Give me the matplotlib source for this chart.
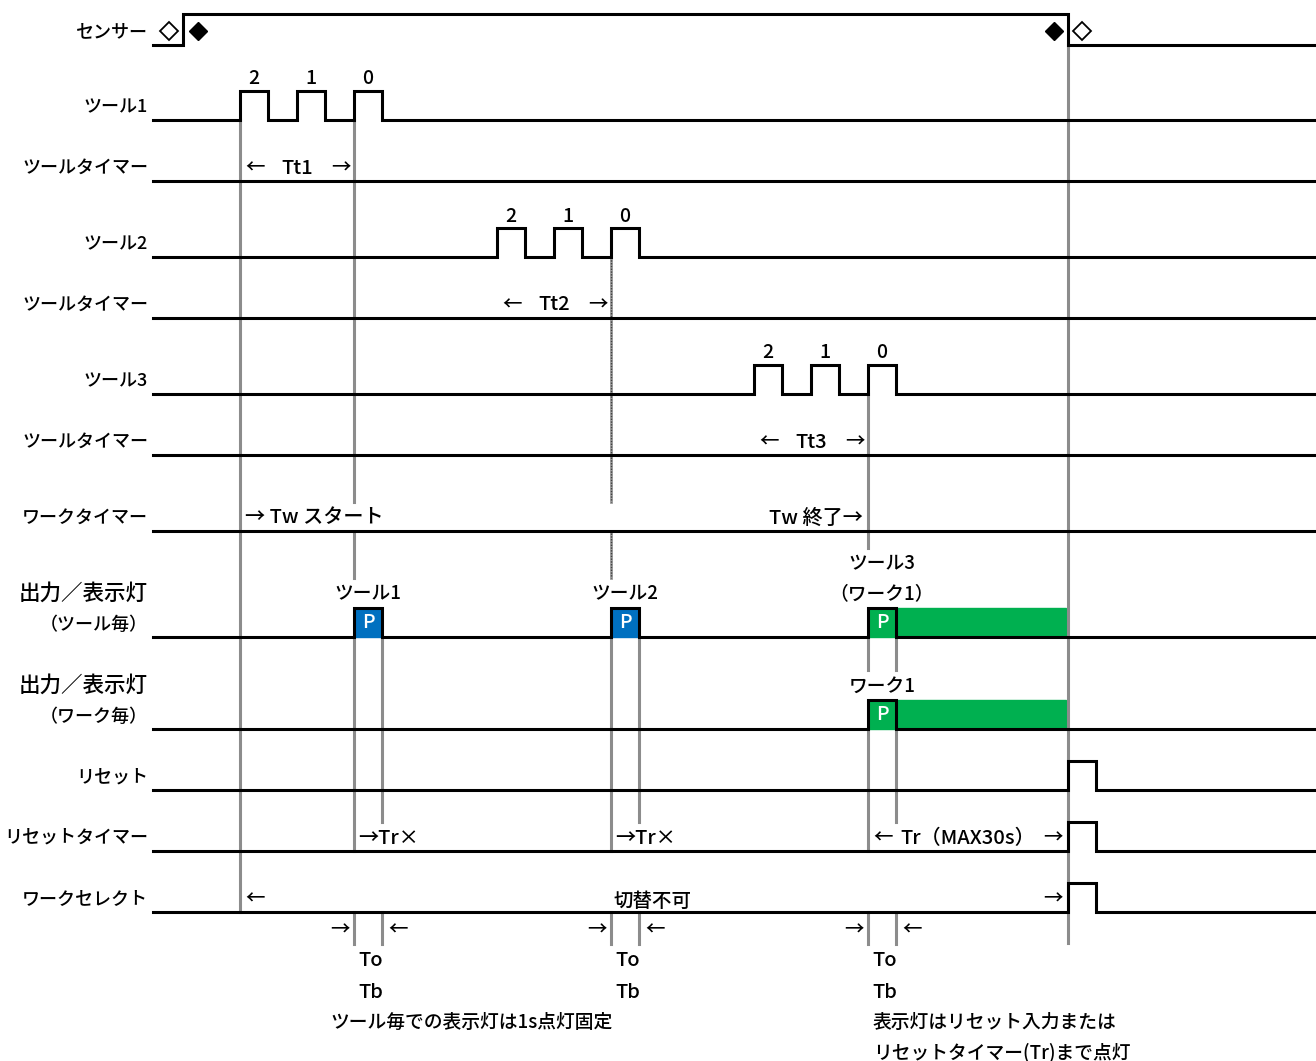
import matplotlib.pyplot as plt
from matplotlib.patches import Rectangle

plt.rcParams['font.family'] = ['Noto Sans CJK JP', 'DejaVu Sans']
plt.rcParams['font.weight'] = 'medium'

# row labels and their baselines (pixel y of the low level)
ROW_LABELS = ["センサー", "ツール1", "ツールタイマー", "ツール2", "ツールタイマー", "ツール3",
              "ツールタイマー", "ワークタイマー", None, None, "リセット", "リセットタイマー",
              "ワークセレクト"]
ROW_Y = [45, 120, 181, 257, 318, 394, 455, 531, 637, 729, 790, 851, 912]
OUT_LABELS = [("出力／表示灯", "（ツール毎）"), ("出力／表示灯", "（ワーク毎）")]

# event times (pixel x)
X_START, X_END = 153, 1316
SENSOR_ON, SENSOR_OFF = 183, 1068
TOOL_PULSES = [[240, 297, 354], [497, 554, 611], [754, 811, 868]]
PULSE_W = 28
COUNTS = ["2", "1", "0"]
TIMER_LABELS = ["Tt1", "Tt2", "Tt3"]
P_STARTS = [354, 611, 868]
P_COLORS = ["#0070C0", "#0070C0", "#00B050"]
P_TITLES = [["ツール1"], ["ツール2"], ["ツール3", "（ワーク1）"]]
HOLD_END = 1066
RESET_ON = 1068

HIGH = 29
LW = 2.2
GRAY = "#8c8c8c"

fig = plt.figure(figsize=(13.16, 10.61), dpi=100)
ax = fig.add_axes([0, 0, 1, 1])
ax.set_xlim(0, 1316)
ax.set_ylim(1061, 0)
ax.axis("off")


def wave(y0, pulses, h=HIGH):
    """Draw a digital waveform at baseline y0 with high intervals (start, end)."""
    xs, ys = [X_START], [y0]
    for a, b in pulses:
        xs += [a, a, b, b]
        ys += [y0, y0 - h, y0 - h, y0]
    xs.append(X_END)
    ys.append(y0)
    ax.plot(xs, ys, color="black", lw=LW, zorder=3, solid_joinstyle="miter")


def label(x, y, s, ha="center", size=13.5, **kw):
    ax.text(x, y, s, ha=ha, va="center", fontsize=size, zorder=5, **kw)


# gray guide lines (x, top, bottom)
guides = [
    (240, ROW_Y[1], ROW_Y[12]),
    (354, ROW_Y[1], 502), (354, 533, 578), (354, ROW_Y[8], ROW_Y[11]),
    (382, ROW_Y[8], 822),
    (611, ROW_Y[8], ROW_Y[11]),
    (639, ROW_Y[8], 822),
    (868, ROW_Y[5], 548), (868, ROW_Y[8], 670), (868, ROW_Y[9], ROW_Y[11]),
    (896, ROW_Y[8], 670), (896, ROW_Y[9], 822),
    (SENSOR_OFF, ROW_Y[0], 943),
]
for x in P_STARTS:
    guides += [(x, ROW_Y[12], 944), (x + PULSE_W, ROW_Y[12], 944)]
for x, y1, y2 in guides:
    ax.plot([x, x], [y1, y2], color=GRAY, lw=LW, zorder=2)
# the tool-2 guide above the lamp row is drawn darker with a dotted texture
for y1, y2 in [(ROW_Y[3], 502), (533, 578)]:
    ax.plot([611, 611], [y1, y2], color="#9a9a9a", lw=2.0, zorder=2)
    ax.plot([611, 611], [y1, y2], color="#404040", lw=1.0, ls=(0, (1, 1)), zorder=2)

# row labels
for name, y in zip(ROW_LABELS, ROW_Y):
    if name:
        label(148, y - 13, name, ha="right", size=13)
for (l1, l2), y in zip(OUT_LABELS, [ROW_Y[8], ROW_Y[9]]):
    label(148, y - 43, l1, ha="right", size=15.5)
    label(148, y - 12, l2, ha="right", size=13)

# sensor
wave(ROW_Y[0], [(SENSOR_ON, SENSOR_OFF)], h=31)
sy = ROW_Y[0] - 14
ax.plot([SENSOR_ON - 14, SENSOR_OFF + 14], [sy, sy], ls="none", marker="D",
        ms=9, mfc="white", mec="black", mew=1.3, zorder=4)
ax.plot([SENSOR_ON + 15, SENSOR_OFF - 14], [sy, sy], ls="none", marker="D",
        ms=9, color="black", zorder=4)

# tools and tool timers
for i, starts in enumerate(TOOL_PULSES):
    yb = ROW_Y[1 + 2 * i]
    wave(yb, [(s, s + PULSE_W) for s in starts])
    for s, c in zip(starts, COUNTS):
        label(s + PULSE_W / 2, yb - HIGH - 12, c, size=14)
    yt = ROW_Y[2 + 2 * i]
    wave(yt, [])
    a, b = starts[0], starts[-1]
    label(a + 5, yt - 13, "←", ha="left", size=14)
    label((a + b) / 2, yt - 13, TIMER_LABELS[i], size=14.5)
    label(b - 3, yt - 13, "→", ha="right", size=14)

# work timer
wave(ROW_Y[7], [])
label(TOOL_PULSES[0][0] + 5, ROW_Y[7] - 13, "→ Tw スタート", ha="left", size=14.5)
label(TOOL_PULSES[2][-1] - 5, ROW_Y[7] - 13, "Tw 終了→", ha="right", size=14.5)

# outputs / lamps
for k, (x, col, titles) in enumerate(zip(P_STARTS, P_COLORS, P_TITLES)):
    yb = ROW_Y[8]
    ax.add_patch(Rectangle((x, yb - HIGH), PULSE_W, HIGH, color=col, zorder=1))
    label(x + PULSE_W / 2, yb - HIGH / 2, "P", color="white", size=14)
    for j, t in enumerate(reversed(titles)):
        label(x + PULSE_W / 2, yb - 43 - 30 * j, t)
x3 = P_STARTS[2]
ax.add_patch(Rectangle((x3 + PULSE_W, ROW_Y[8] - HIGH), HOLD_END - x3 - PULSE_W, HIGH,
                       color="#00B050", zorder=1))
wave(ROW_Y[8], [(x, x + PULSE_W) for x in P_STARTS])

yb = ROW_Y[9]
ax.add_patch(Rectangle((x3, yb - HIGH), HOLD_END - x3, HIGH, color="#00B050", zorder=1))
label(x3 + PULSE_W / 2, yb - HIGH / 2, "P", color="white", size=14)
label(x3 + PULSE_W / 2, yb - 43, "ワーク1")
wave(yb, [(x3, x3 + PULSE_W)])

# reset, reset timer, work select
for r in (10, 11, 12):
    wave(ROW_Y[r], [(RESET_ON, RESET_ON + PULSE_W)])
for x in P_STARTS[:2]:
    label(x + 4, ROW_Y[11] - 13, "→Tr×", ha="left", size=14.5)
label(x3 + 5, ROW_Y[11] - 13, "←", ha="left", size=14)
label((x3 + RESET_ON) / 2, ROW_Y[11] - 13, "Tr（MAX30s）", size=14.5)
label(RESET_ON - 5, ROW_Y[11] - 13, "→", ha="right", size=14)
label(TOOL_PULSES[0][0] + 5, ROW_Y[12] - 13, "←", ha="left", size=14)
label(653, ROW_Y[12] - 11, "切替不可", size=14)
label(RESET_ON - 5, ROW_Y[12] - 13, "→", ha="right", size=14)

# To / Tb markers
for x in P_STARTS:
    label(x - 4, 930, "→", ha="right", size=14)
    label(x + PULSE_W + 6, 930, "←", ha="left", size=14)
    label(x + 4, 961, "To", ha="left", size=14.5)
    label(x + 4, 992, "Tb", ha="left", size=14.5)
label(330, 1022, "ツール毎での表示灯は1s点灯固定", ha="left", size=13.5)
label(x3 + 5, 1022, "表示灯はリセット入力または", ha="left", size=13.5)
label(x3 + 5, 1052, "リセットタイマー(Tr)まで点灯", ha="left", size=13.5)

fig.savefig("out.png", dpi=100)
